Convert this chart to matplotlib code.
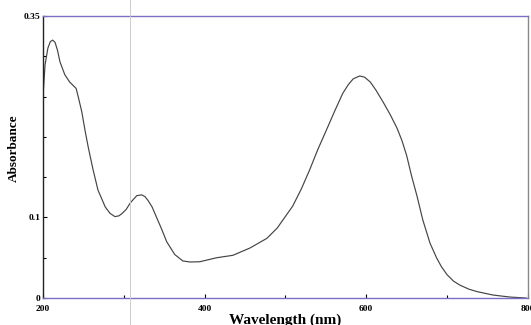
import matplotlib
matplotlib.use('Agg')
import matplotlib.pyplot as plt
from matplotlib.lines import Line2D
from matplotlib.ticker import MultipleLocator

# UV-Vis spectrum
wavelength = [200, 202.5, 206, 209, 212, 215, 218, 221, 227, 233, 238, 241,
              244, 248, 252, 256, 262, 268, 277, 283, 289, 294, 298, 303,
              308, 316, 322, 326, 330, 335, 341, 347, 353, 363, 373, 382,
              394, 415, 435, 456, 477, 490, 497, 509, 520, 530, 540, 551,
              561, 571, 578, 584, 592, 598, 605, 612, 621, 630, 638, 644,
              650, 656, 663, 670, 679, 687, 693, 700, 708, 716, 727, 737,
              757, 778, 798]
absorbance = [0.250, 0.289, 0.310, 0.318, 0.320, 0.317, 0.307, 0.293, 0.277,
              0.268, 0.263, 0.260, 0.248, 0.231, 0.208, 0.187, 0.159, 0.134,
              0.113, 0.105, 0.101, 0.102, 0.105, 0.110, 0.118, 0.127, 0.128,
              0.126, 0.121, 0.113, 0.099, 0.085, 0.070, 0.054, 0.046, 0.0447,
              0.045, 0.050, 0.053, 0.062, 0.074, 0.087, 0.097, 0.114, 0.136,
              0.159, 0.184, 0.209, 0.232, 0.254, 0.265, 0.272, 0.2755, 0.274,
              0.268, 0.258, 0.243, 0.227, 0.211, 0.196, 0.177, 0.152, 0.126,
              0.097, 0.068, 0.050, 0.039, 0.029, 0.021, 0.016, 0.011, 0.008,
              0.0037, 0.0012, 0.0]

xticks = [200, 400, 600, 800]
yticks = [0, 0.1, 0.35]
ytick_labels = ['0', '0.1', '0.35']

plt.rcParams['font.family'] = ['Liberation Serif', 'DejaVu Serif']

fig = plt.figure(figsize=(5.31, 3.25), dpi=100)
ax = fig.add_axes([0.081, 0.083, 0.913, 0.868])

ax.plot(wavelength, absorbance, color='#444444', linewidth=0.85,
        solid_joinstyle='round')

ax.set_xlim(200, 800)
ax.set_ylim(0, 0.35)
ax.set_xticks(xticks)
ax.set_xticklabels([str(t) for t in xticks], fontsize=6.8, fontweight='bold')
ax.set_yticks(yticks)
ax.set_yticklabels(ytick_labels, fontsize=6.8, fontweight='bold')
ax.xaxis.set_minor_locator(MultipleLocator(100))
ax.yaxis.set_minor_locator(MultipleLocator(0.05))
ax.tick_params(which='both', direction='in', length=3, width=0.8)
ax.tick_params(which='minor', length=2)
ax.tick_params(axis='x', pad=5)
ax.tick_params(axis='y', pad=2)

ax.spines['left'].set_color('#222222')
ax.spines['right'].set_color('#888888')
ax.spines['top'].set_color('#7a6fc4')
ax.spines['bottom'].set_color('#7a6fc4')
for s in ax.spines.values():
    s.set_linewidth(1.0)

ax.set_xlabel('Wavelength (nm)', fontsize=11, fontweight='bold')
ax.set_ylabel('Absorbance', fontsize=9.5, fontweight='bold')
ax.xaxis.set_label_coords(0.5, -0.055)
ax.yaxis.set_label_coords(-0.048, 0.53)

# faint vertical fold line from the scan
fig.add_artist(Line2D([0.245, 0.245], [0, 1], color='#cccccc', linewidth=0.7))

fig.savefig('out.png', dpi=100, facecolor='white')
plt.close(fig)
